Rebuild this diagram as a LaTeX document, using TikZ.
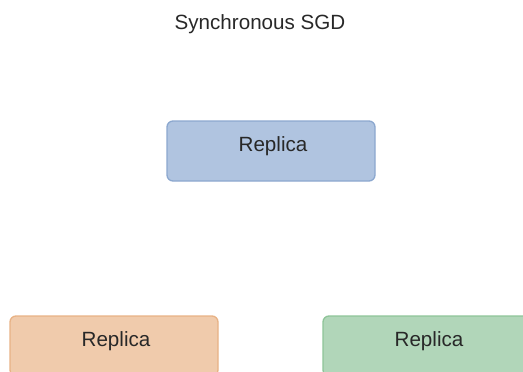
\documentclass[tikz,border=0pt]{standalone}
\usepackage{fontspec}
\setmainfont{Liberation Sans}
\definecolor{bluefill}{RGB}{176,196,224}
\definecolor{blueline}{RGB}{140,168,207}
\definecolor{orangefill}{RGB}{240,203,172}
\definecolor{orangeline}{RGB}{232,178,133}
\definecolor{greenfill}{RGB}{177,214,185}
\definecolor{greenline}{RGB}{142,196,152}
\definecolor{txt}{RGB}{40,40,40}
\begin{document}
\begin{tikzpicture}[x=1pt,y=-1pt,
  box/.style={draw, line width=1.3pt, rounded corners=6pt, minimum width=208pt, minimum height=60pt, inner sep=0pt},
  lbl/.style={anchor=base, inner sep=0pt, font=\fontsize{20.6}{24}\selectfont, text=txt}]
\useasboundingbox (0,0) rectangle (523,372);
\clip (0,0) rectangle (523,372);
\node[lbl] (title) at (260,30) {Synchronous SGD};
\node[box, fill=bluefill, draw=blueline] (top) at (271,151) {};
\node[lbl] (toplbl) at ([xshift=2pt,yshift=-31pt]top.north) {Replica};
\node[box, fill=orangefill, draw=orangeline] (left) at (114,346) {};
\node[lbl] (leftlbl) at ([xshift=2pt,yshift=-31pt]left.north) {Replica};
\node[box, fill=greenfill, draw=greenline] (right) at (427,346) {};
\node[lbl] (rightlbl) at ([xshift=2pt,yshift=-31pt]right.north) {Replica};
\end{tikzpicture}
\end{document}
